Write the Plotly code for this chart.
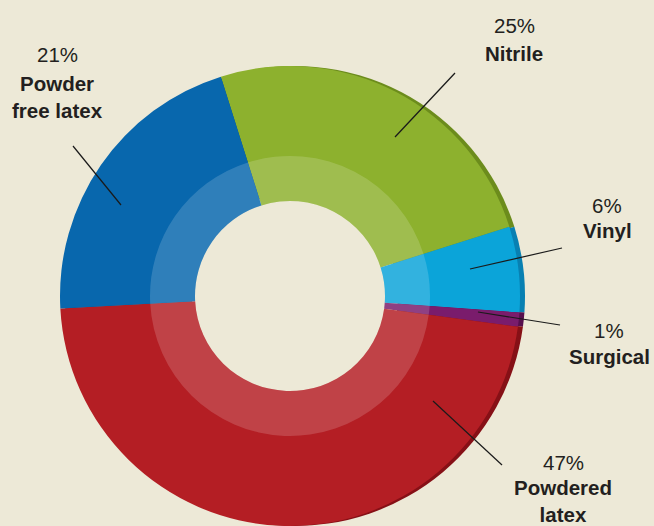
import plotly.graph_objects as go

W, H = 654, 526

categories = ["Nitrile", "Vinyl", "Surgical", "Powdered latex", "Powder free latex"]
values = [25, 6, 1, 47, 21]
label_names = ["Nitrile", "Vinyl", "Surgical", "Powdered<br>latex", "Powder<br>free latex"]
colors = ["#8DB12E", "#0BA4D9", "#7A1C6C", "#B41E24", "#0867AD"]
rim_colors = ["#6C8C1C", "#0880B2", "#560F4E", "#861016", "#054E87"]

BG = "#EDE9D7"
TXT = "#231F20"

cx, cy = 290, 296          # pie centre in px (from top)
R_OUT = 230
R_HOLE = 95
R_RING = 140
ROT = -17.5


def dom(cx_px, cy_px, r):
    yb = H - cy_px
    return dict(x=[(cx_px - r) / W, (cx_px + r) / W],
                y=[max(0, (yb - r) / H), min(1, (yb + r) / H)])


fig = go.Figure()

# 3D rim (offset darker copy behind)
fig.add_trace(go.Pie(
    labels=categories, values=values, sort=False, direction="clockwise",
    rotation=ROT, hole=(R_HOLE + 8) / R_OUT, textinfo="none", hoverinfo="skip",
    marker=dict(colors=rim_colors, line=dict(width=0)),
    domain=dom(cx + 5, cy, R_OUT), showlegend=False))

# main donut
fig.add_trace(go.Pie(
    labels=categories, values=values, sort=False, direction="clockwise",
    rotation=ROT, hole=R_HOLE / R_OUT, textinfo="none",
    marker=dict(colors=colors, line=dict(width=0)),
    domain=dom(cx, cy, R_OUT), showlegend=False))

# inner lighter ring
fig.add_trace(go.Pie(
    labels=categories, values=values, sort=False, direction="clockwise",
    rotation=ROT, hole=R_HOLE / R_RING, textinfo="none", hoverinfo="skip",
    marker=dict(colors=["rgba(255,255,255,0.16)"] * len(values), line=dict(width=0)),
    domain=dom(cx, cy, R_RING), showlegend=False))

# label positions (px): percent line, name line
label_pos = {
    "Nitrile": (514, 25, 53),
    "Vinyl": (607, 205, 231),
    "Surgical": (609, 330, 356),
    "Powdered latex": (563, 462, 501),
    "Powder free latex": (57, 55, 97),
}
leaders = {
    "Nitrile": ((455, 73), (395, 137)),
    "Vinyl": ((562, 248), (470, 269)),
    "Surgical": ((560, 325), (478, 312)),
    "Powdered latex": ((502, 465), (433, 401)),
    "Powder free latex": ((73, 146), (121, 205)),
}

annotations = []
shapes = []
for cat, v, nm in zip(categories, values, label_names):
    x, yp, yn = label_pos[cat]
    annotations.append(dict(
        x=x / W, y=1 - yp / H, xref="paper", yref="paper", text=f"{v}%",
        showarrow=False, xanchor="center", yanchor="middle",
        font=dict(family="Liberation Sans, Arial, sans-serif", size=20.5, color=TXT)))
    annotations.append(dict(
        x=x / W, y=1 - yn / H, xref="paper", yref="paper", text=f"<b>{nm}</b>",
        showarrow=False, xanchor="center", yanchor="middle",
        font=dict(family="Liberation Sans, Arial, sans-serif", size=20.5, color=TXT)))
    (x0, y0), (x1, y1) = leaders[cat]
    shapes.append(dict(type="line", xref="paper", yref="paper",
                       x0=x0 / W, y0=1 - y0 / H, x1=x1 / W, y1=1 - y1 / H,
                       line=dict(color="#1A1A1A", width=1.2)))

fig.update_layout(
    width=W, height=H, margin=dict(l=0, r=0, t=0, b=0),
    paper_bgcolor=BG, plot_bgcolor=BG,
    annotations=annotations, shapes=shapes, showlegend=False)

fig.write_html("out.html")
